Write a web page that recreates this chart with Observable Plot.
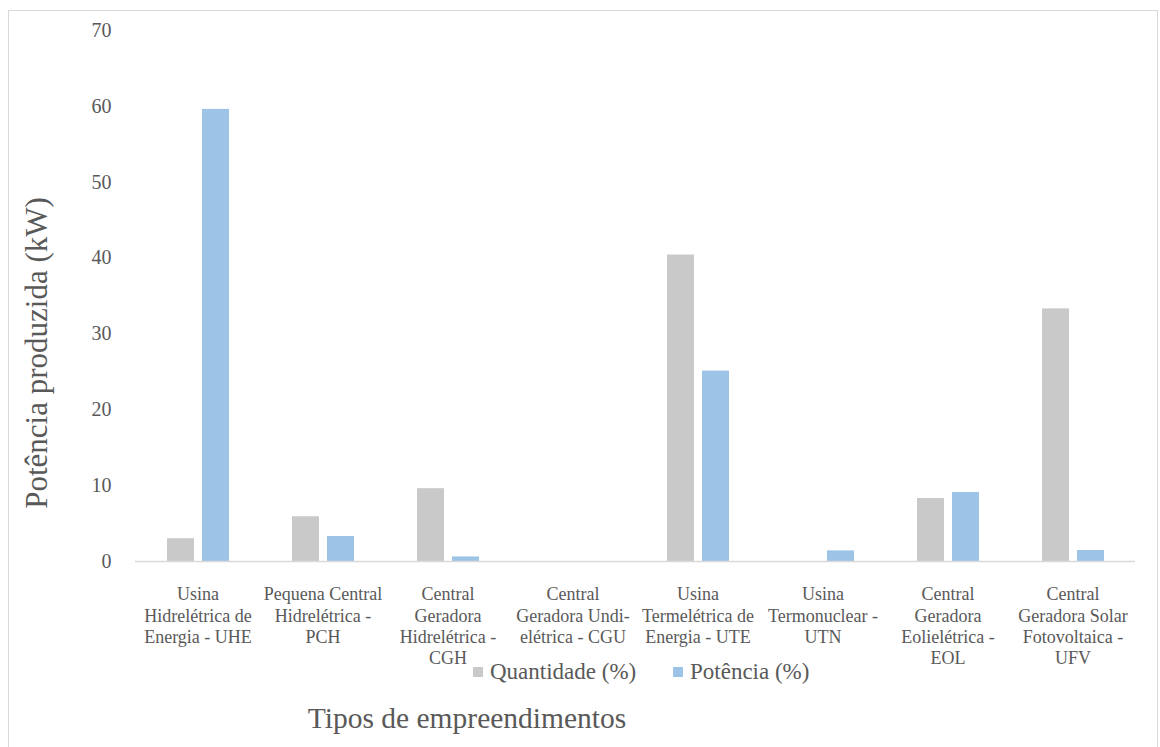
<!DOCTYPE html>
<html>
<head>
<meta charset="utf-8">
<script src="https://cdn.jsdelivr.net/npm/d3@7"></script>
<script src="https://cdn.jsdelivr.net/npm/@observablehq/plot@0.6"></script>
<style>
  html, body { margin: 0; padding: 0; background: #fff; }
  #wrap { position: relative; width: 1160px; height: 747px; overflow: hidden; font-family: "Liberation Serif", LiberationSerif, Tinos, "DejaVu Serif", serif; color: #595959; }
  #frame { position: absolute; left: 8px; top: 10px; width: 1150px; height: 760px; border: 1px solid #d9d9d9; box-sizing: border-box; }
  #chart { position: absolute; left: 0; top: 0; }
  #ytitle { position: absolute; left: 37px; top: 353px; transform: translate(-50%, -50%) rotate(-90deg); white-space: nowrap; font-size: 31px; }
  #xtitle { position: absolute; left: 467px; top: 718px; transform: translate(-50%, -50%); white-space: nowrap; font-size: 29.5px; }
  .leg { position: absolute; top: 672px; transform: translateY(-50%); white-space: nowrap; font-size: 23px; display: flex; align-items: center; }
  .sw { width: 10px; height: 10px; margin-right: 7px; display: inline-block; }
</style>
</head>
<body>
<div id="wrap">
  <div id="frame"></div>
  <div id="chart"></div>
  <div id="ytitle"></div>
  <div id="xtitle"></div>
  <div id="leg1" class="leg" style="left:473px"></div>
  <div id="leg2" class="leg" style="left:673px"></div>
</div>
<script>
// ---- data ----
const categories = [
  "Usina\nHidrelétrica de\nEnergia - UHE",
  "Pequena Central\nHidrelétrica -\nPCH",
  "Central\nGeradora\nHidrelétrica -\nCGH",
  "Central\nGeradora Undi-\nelétrica - CGU",
  "Usina\nTermelétrica de\nEnergia - UTE",
  "Usina\nTermonuclear -\nUTN",
  "Central\nGeradora\nEolielétrica -\nEOL",
  "Central\nGeradora Solar\nFotovoltaica -\nUFV"
];
const seriesNames = ["Quantidade (%)", "Potência (%)"];
const quantidade = [3.0, 5.9, 9.6, 0, 40.4, 0, 8.3, 33.3];
const potencia = [59.6, 3.3, 0.6, 0, 25.1, 1.4, 9.1, 1.45];
const seriesColors = ["#c9c9c9", "#9dc3e6"];
const yTicks = [0, 10, 20, 30, 40, 50, 60, 70];
const yTitle = "Potência produzida (kW)";
const xTitle = "Tipos de empreendimentos";

const rows = [];
categories.forEach((c, i) => {
  rows.push({cat: c, series: seriesNames[0], value: quantidade[i]});
  rows.push({cat: c, series: seriesNames[1], value: potencia[i]});
});

const chart = Plot.plot({
  width: 1160,
  height: 690,
  marginTop: 30,
  marginLeft: 132,
  marginRight: 23,
  marginBottom: 129,
  style: {fontFamily: "'Liberation Serif', LiberationSerif, Tinos, 'DejaVu Serif', serif", color: "#595959", background: "transparent"},
  fx: {domain: categories, padding: 0, label: null},
  x: {domain: seriesNames, paddingInner: 0.233, paddingOuter: 0.861, axis: null},
  y: {domain: [0, 70], label: null},
  color: {domain: seriesNames, range: seriesColors},
  marks: [
    Plot.axisY({ticks: yTicks, tickSize: 0, tickPadding: 24, fontSize: 20, label: null, tickFormat: d => String(d)}),
    Plot.axisFx({anchor: "bottom", tickSize: 0, tickPadding: 24, fontSize: 18, lineHeight: 1.17, label: null, tickFormat: d => d}),
    Plot.barY(rows, {fx: "cat", x: "series", y: "value", fill: "series"}),
    Plot.ruleY([0], {stroke: "#d9d9d9", strokeWidth: 1.5})
  ]
});
document.getElementById("chart").appendChild(chart);

document.getElementById("ytitle").textContent = yTitle;
document.getElementById("xtitle").textContent = xTitle;
[["leg1", 0], ["leg2", 1]].forEach(([id, i]) => {
  const el = document.getElementById(id);
  const sw = document.createElement("span");
  sw.className = "sw";
  sw.style.background = seriesColors[i];
  el.appendChild(sw);
  el.appendChild(document.createTextNode(seriesNames[i]));
});
</script>
</body>
</html>
